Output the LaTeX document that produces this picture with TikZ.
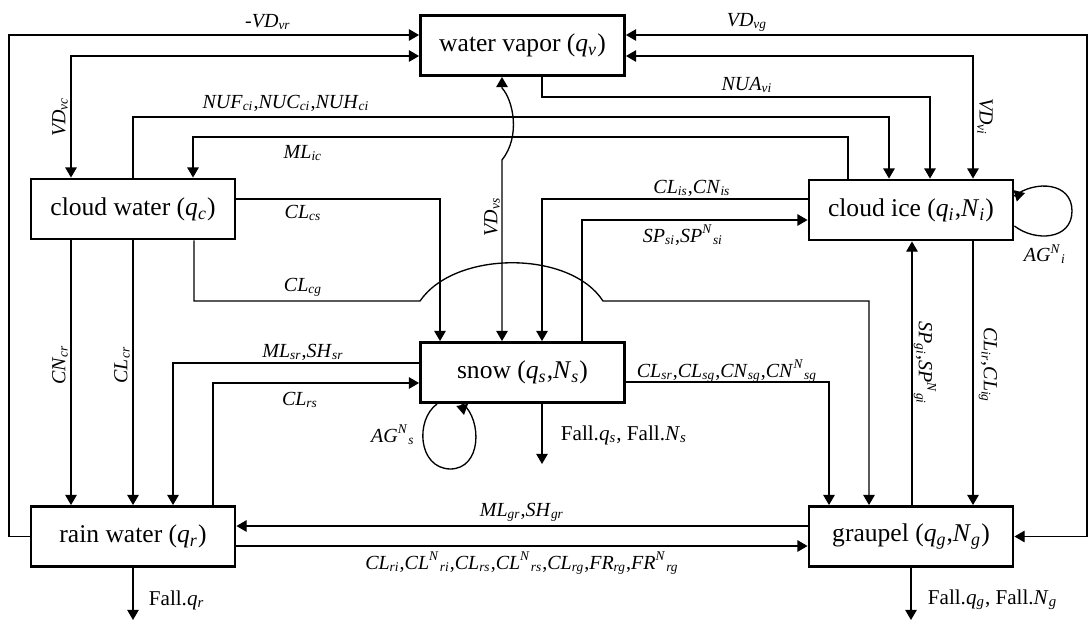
\documentclass[tikz,border=0pt]{standalone}
\usepackage{fontspec}
\setmainfont{Liberation Serif}
\usepackage{tikz}
\usetikzlibrary{arrows.meta}

\newcommand{\rate}[2]{\textit{#1}\textsubscript{\textit{#2}}}
\newcommand{\raten}[2]{\textit{#1}\textsuperscript{\textit{N}}\textsubscript{\textit{#2}}}
\newcommand{\qmix}[1]{\textit{q}\textsubscript{\textit{#1}}}
\newcommand{\nmix}[1]{\textit{N}\textsubscript{\textit{#1}}}

\begin{document}
\begin{tikzpicture}[x=0.45pt, y=-0.45pt, line width=0.6pt,
        >={Triangle[width=5.2pt,length=4.6pt]},
        box/.style={draw, line width=1.3pt, inner sep=0pt, minimum width=91.8pt,
                    minimum height=27pt, font=\fontsize{11.5}{13}\selectfont},
        lbl/.style={inner sep=1pt, font=\fontsize{9}{10}\selectfont},
        fall/.style={inner sep=1pt, anchor=west, font=\fontsize{9.5}{11}\selectfont}]
        \useasboundingbox (0,0) rectangle (1088,625);

        \node[box] (wv) at (522.5,45.5) {water vapor (\qmix{v})};
        \node[box] (cw) at (133,209) {cloud water (\qmix{c})};
        \node[box] (ci) at (911,210) {cloud ice (\qmix{i},\nmix{i})};
        \node[box] (sn) at (522.5,372.5) {snow (\qmix{s},\nmix{s})};
        \node[box] (rw) at (133,536.5) {rain water (\qmix{r})};
        \node[box] (gr) at (911,536.5) {graupel (\qmix{g},\nmix{g})};

        \draw[->] (rw.west) -| (9,35) -- (wv.west |- 0,35);
        \draw[<->] (wv.west |- 0,56) -| (cw.north -| 71,0);
        \draw[->] (cw.north) |- (889,117) -- (ci.north -| 889,0);
        \draw[->] (ci.north -| 848,0) |- (193,137) -- (cw.north -| 193,0);
        \draw[->] (wv.south -| 542,0) |- (930,97) -- (ci.north -| 930,0);
        \draw[<->] (wv.east |- 0,56) -| (ci.north -| 973,0);
        \draw[<->] (wv.east |- 0,35) -| (1087,536.5) -- (gr.east);
        \draw[<->] (sn.north -| 502,0) -- (502,160) .. controls (521,136) and (513,100) .. (502,88) -- (wv.south -| 502,0);
        \draw[->] (cw.east |- 0,199) -| (sn.north -| 440,0);
        \draw[->] (cw.south -| 194,0) |- (420,301) .. controls (455,250) and (570,250) .. (603,301) -| (gr.north -| 869,0);
        \draw[->] (ci.west |- 0,199) -| (sn.north -| 542,0);
        \draw[->] (sn.north -| 582,0) |- (ci.west |- 0,220);
        \draw[->] (sn.west |- 0,363) -| (rw.north -| 173,0);
        \draw[->] (rw.north -| 213,0) |- (sn.west |- 0,383);
        \draw[->] (cw.south -| 71,0) -- (rw.north -| 71,0);
        \draw[->] (cw.south) -- (rw.north);
        \draw (sn.south -| 437,0) .. controls (415,420) and (418,468) .. (450,469) .. controls (482,469) and (482,420) .. (sn.south -| 463,0);
        \draw[->] (sn.south -| 462,0) -- (464,415);
        \draw (ci.east |- 0,226) .. controls (1035,242) and (1072,240) .. (1072,211) .. controls (1072,182) and (1035,180) .. (ci.east |- 0,196);
        \draw[->] (ci.east |- 0,196) -- (1025,193);
        \draw[->] (sn.south -| 542,0) -- (542,464);
        \draw[->] (sn.east |- 0,382) -| (gr.north -| 829,0);
        \draw[->] (ci.south -| 973,0) -- (gr.north -| 973,0);
        \draw[->] (gr.north -| 912,0) -- (ci.south -| 912,0);
        \draw[->] (gr.west |- 0,526) -- (rw.east |- 0,526);
        \draw[->] (rw.east |- 0,546) -- (gr.west |- 0,546);
        \draw[->] (rw.south) -- (133,620);
        \draw[->] (gr.south) -- (911,620);

        \node[lbl] (lvr) at (268,22) {-\rate{VD}{vr}};
        \node[lbl] (lvg) at (747,22) {\rate{VD}{vg}};
        \node[lbl, rotate=90] (lvc) at (60,117) {\rate{VD}{vc}};
        \node[lbl, rotate=-90] (lvi) at (985,117) {\rate{VD}{vi}};
        \node[lbl] (lnua) at (747,85) {\rate{NUA}{vi}};
        \node[lbl] (lnuf) at (286,103) {\rate{NUF}{ci},\rate{NUC}{ci},\rate{NUH}{ci}};
        \node[lbl] (lmlic) at (303,153) {\rate{ML}{ic}};
        \node[lbl, rotate=90] (lvs) at (492,217) {\rate{VD}{vs}};
        \node[lbl] (lcs) at (303,213) {\rate{CL}{cs}};
        \node[lbl] (lcg) at (303,287) {\rate{CL}{cg}};
        \node[lbl] (lis) at (692,188) {\rate{CL}{is},\rate{CN}{is}};
        \node[lbl] (lsi) at (683,235) {\rate{SP}{si},\raten{SP}{si}};
        \node[lbl] (lsr) at (303,352) {\rate{ML}{sr},\rate{SH}{sr}};
        \node[lbl] (lrs) at (300,400) {\rate{CL}{rs}};
        \node[lbl, rotate=90] (lcn) at (60,365) {\rate{CN}{cr}};
        \node[lbl, rotate=90] (lcr) at (122,365) {\rate{CL}{cr}};
        \node[lbl] (lags) at (393,435) {\raten{AG}{s}};
        \node[lbl] (lagi) at (1045,254) {\raten{AG}{i}};
        \node[fall] (lfs) at (558,435) {Fall.\qmix{s}, Fall.\nmix{s}};
        \node[lbl] (lsg) at (727,371) {\rate{CL}{sr},\rate{CL}{sg},\rate{CN}{sg},\raten{CN}{sg}};
        \node[lbl, rotate=-90] (lgi) at (925,363) {\rate{SP}{gi},\raten{SP}{gi}};
        \node[lbl, rotate=-90] (lir) at (988,365) {\rate{CL}{ir},\rate{CL}{ig}};
        \node[lbl] (lgr) at (522,512) {\rate{ML}{gr},\rate{SH}{gr}};
        \node[lbl] (lrg) at (522,563) {\rate{CL}{ri},\raten{CL}{ri},\rate{CL}{rs},\raten{CL}{rs},\rate{CL}{rg},\rate{FR}{rg},\raten{FR}{rg}};
        \node[fall] (lfr) at (146,600) {Fall.\qmix{r}};
        \node[fall] (lfg) at (925,600) {Fall.\qmix{g}, Fall.\nmix{g}};
\end{tikzpicture}
\end{document}
